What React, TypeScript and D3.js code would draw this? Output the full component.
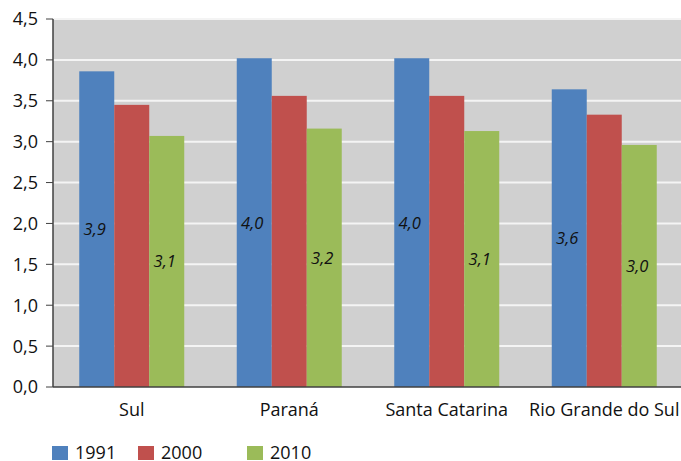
import React from "react";
import * as d3 from "d3";

const categories = ["Sul", "Paraná", "Santa Catarina", "Rio Grande do Sul"];
const seriesNames = ["1991", "2000", "2010"];
const values1991 = [3.86, 4.02, 4.02, 3.64];
const values2000 = [3.45, 3.56, 3.56, 3.33];
const values2010 = [3.07, 3.16, 3.13, 2.96];
const yTicks = [0, 0.5, 1, 1.5, 2, 2.5, 3, 3.5, 4, 4.5];
const colors = ["#4F81BD", "#C0504D", "#9BBB59"];
const labeledSeries = [true, false, true];

const W = 681;
const H = 461;
const margin = { left: 53, right: 0, top: 19, bottom: 74 };
const FONT = "'Open Sans', 'DejaVu Sans', sans-serif";

export default function App() {
  const series = [values1991, values2000, values2010];
  const x = d3
    .scaleBand<string>()
    .domain(categories)
    .range([margin.left, W - margin.right + 2]);
  const y = d3
    .scaleLinear()
    .domain([0, 4.5])
    .range([H - margin.bottom, margin.top]);
  const bw = 35;
  const groupW = bw * 3;
  const fmt = (v: number) => v.toFixed(1).replace(".", ",");

  return (
    <svg
      width={W}
      height={H}
      style={{ position: "absolute", left: 0, top: 0, fontFamily: FONT }}
    >
      <rect
        x={margin.left}
        y={margin.top}
        width={W - margin.left}
        height={y(0) - margin.top}
        fill="#D0D0D0"
      />
      {yTicks.map((t) => (
        <g key={t}>
          {t > 0 && (
            <line
              x1={margin.left}
              x2={W}
              y1={y(t)}
              y2={y(t)}
              stroke="#F4F4F4"
              strokeWidth={2}
            />
          )}
          <line
            x1={margin.left - 7}
            x2={margin.left}
            y1={y(t)}
            y2={y(t)}
            stroke="#404040"
            strokeWidth={1}
          />
          <text
            x={margin.left - 15}
            y={y(t)}
            dy="0.36em"
            textAnchor="end"
            fontSize={18}
            fill="#111"
          >
            {fmt(t)}
          </text>
        </g>
      ))}
      {categories.map((c, ci) => {
        const x0 = (x(c) as number) + (x.bandwidth() - groupW) / 2;
        return (
          <g key={c}>
            {series.map((s, si) => (
              <rect
                key={si}
                x={x0 + si * bw}
                y={y(s[ci])}
                width={bw}
                height={y(0) - y(s[ci])}
                fill={colors[si]}
              />
            ))}
            {series.map((s, si) =>
              labeledSeries[si] ? (
                <text
                  key={"l" + si}
                  x={x0 + si * bw + bw / 2 - 2}
                  y={(y(s[ci]) + y(0)) / 2}
                  dy="0.36em"
                  textAnchor="middle"
                  fontSize={16.5}
                  fontStyle="italic"
                  fill="#111"
                >
                  {fmt(s[ci])}
                </text>
              ) : null
            )}
            <text
              x={(x(c) as number) + x.bandwidth() / 2}
              y={y(0) + 29}
              textAnchor="middle"
              fontSize={18}
              fill="#111"
            >
              {c}
            </text>
          </g>
        );
      })}
      <line
        x1={margin.left}
        x2={margin.left}
        y1={margin.top}
        y2={y(0)}
        stroke="#404040"
        strokeWidth={1.5}
      />
      <line
        x1={margin.left}
        x2={W}
        y1={y(0)}
        y2={y(0)}
        stroke="#404040"
        strokeWidth={1.5}
      />
      {seriesNames.map((n, i) => {
        const lx = [52, 138, 247][i];
        return (
          <g key={n}>
            <rect x={lx} y={446} width={16} height={14} fill={colors[i]} />
            <text x={lx + 23} y={459} fontSize={18} fill="#111">
              {n}
            </text>
          </g>
        );
      })}
    </svg>
  );
}
